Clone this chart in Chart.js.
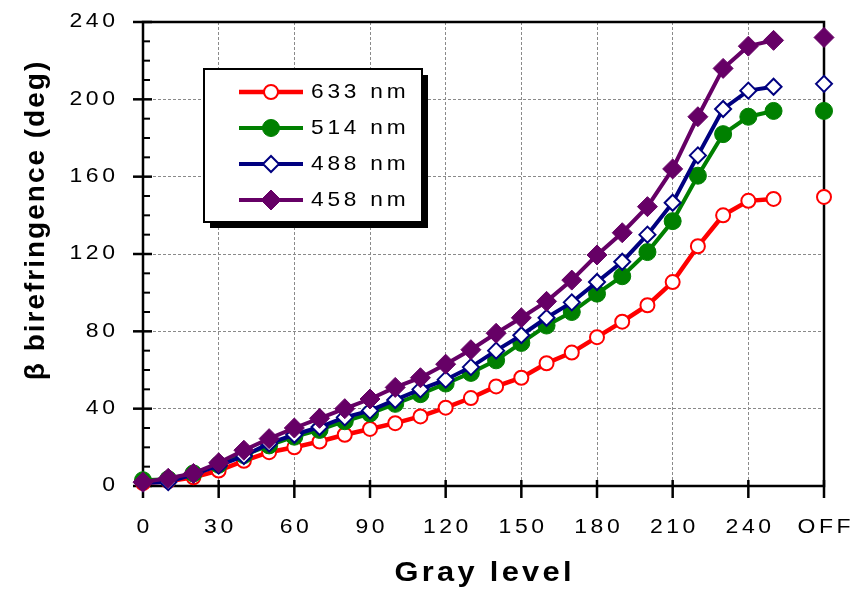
<!DOCTYPE html>
<html>
<head>
<meta charset="utf-8">
<script src="https://cdn.jsdelivr.net/npm/chart.js@4/dist/chart.umd.min.js"></script>
<style>
html,body{margin:0;padding:0;background:#fff;}
#wrap{width:866px;height:591px;position:relative;}
</style>
</head>
<body>
<div id="wrap"><canvas id="c" width="866" height="591"></canvas></div>
<script>
// ---- data ----
const grayLevels = [0,10,20,30,40,50,60,70,80,90,100,110,120,130,140,150,160,170,180,190,200,210,220,230,240,250];
const offPosition = 270;
const seriesNames = ['633 nm','514 nm','488 nm','458 nm'];
const red633   = [1.5,2.5,4.5,8,13,17.5,20,23,26.5,29.5,32.5,36,40.5,45.5,51.5,56,63.5,69,77,85,93.5,105.5,124,140,147.5,148.5];
const green514 = [3,3.5,6.5,11,16,21,25.5,29,33.5,37.5,42.5,47.5,53,58.5,65,74,83,90,99.5,108.5,121,137,160.5,182,191,194];
const blue488  = [1.5,2,6,10.5,15.5,22,26.5,30.5,35.5,39,44.5,50,55,61.5,70,78,87,95,105.5,116,130,146.5,171,195,204.5,206.5];
const purple458= [2,4,6.5,12,18.5,24.5,30,35,40,45,51,56,63,70.5,79,87,95.5,106.5,119.5,131,144.5,164,191,216,227.5,230.5];
const offValues = [149.5,194,208,232];
const xTickValues = [0,30,60,90,120,150,180,210,240,270];
const xTickLabels = ['0','30','60','90','120','150','180','210','240','OFF'];
const yTickValues = [0,40,80,120,160,200,240];
const yTickLabels = ['0','40','80','120','160','200','240'];
const xTitle = 'Gray level';
const yTitle = 'β birefringence (deg)';

const styles = [
  {color:'#ff0000', pointStyle:'circle', radius:7, fill:'#ffffff', bw:2, lw:4.5},
  {color:'#008000', pointStyle:'circle', radius:8.5, fill:'#008000', bw:1, lw:4},
  {color:'#000080', pointStyle:'rectRot', radius:8, fill:'#ffffff', bw:2, lw:4},
  {color:'#660066', pointStyle:'rectRot', radius:10, fill:'#660066', bw:1, lw:4}
];
const seriesValues = [red633, green514, blue488, purple458];

function buildData(vals, off){
  const d = grayLevels.map((g,i)=>({x:g, y:vals[i]}));
  d.push({x:260, y:null});
  d.push({x:offPosition, y:off});
  return d;
}

const datasets = seriesValues.map((vals,i)=>({
  label: seriesNames[i],
  data: buildData(vals, offValues[i]),
  borderColor: styles[i].color,
  backgroundColor: styles[i].fill,
  pointBackgroundColor: styles[i].fill,
  pointBorderColor: styles[i].color,
  pointBorderWidth: styles[i].bw,
  pointRadius: styles[i].radius,
  pointStyle: styles[i].pointStyle,
  borderWidth: styles[i].lw,
  spanGaps: false,
  tension: 0,
  clip: false,
  order: 4 - i
}));

const FONT = '"Liberation Sans", Arial, sans-serif';

function drawText(ctx, s, x, y, o){
  ctx.save();
  ctx.translate(x, y);
  if (o.rot) ctx.rotate(o.rot);
  ctx.scale(o.sx || 1, 1);
  ctx.font = o.font;
  ctx.letterSpacing = (o.ls || 0) + 'px';
  ctx.fillStyle = o.color || '#000';
  ctx.textAlign = 'left';
  ctx.textBaseline = 'middle';
  const w = ctx.measureText(s).width - (o.ls || 0);
  let off = 0;
  if (o.align === 'center') off = -w/2;
  else if (o.align === 'right') off = -w;
  ctx.fillText(s, off, 0);
  ctx.restore();
}

function drawMarker(ctx, st, x, y){
  ctx.save();
  ctx.fillStyle = st.fill;
  ctx.strokeStyle = st.color;
  ctx.lineWidth = st.bw;
  if (Chart.helpers && Chart.helpers.drawPoint) {
    Chart.helpers.drawPoint(ctx, {pointStyle: st.pointStyle, radius: st.radius, borderWidth: st.bw, rotation: 0}, x, y);
  }
  ctx.restore();
}

const framePlugin = {
  id: 'frame',
  beforeDatasetsDraw(chart){
    const ctx = chart.ctx, a = chart.chartArea;
    const xs = chart.scales.x, ys = chart.scales.y;
    ctx.save();
    ctx.strokeStyle = '#000';
    ctx.lineWidth = 2.5;
    ctx.lineCap = 'butt';
    ctx.strokeRect(a.left, a.top, a.right - a.left, a.bottom - a.top);
    yTickValues.forEach(v=>{
      const py = ys.getPixelForValue(v);
      ctx.beginPath(); ctx.moveTo(a.left - 10, py); ctx.lineTo(a.left + 9, py); ctx.stroke();
    });
    ctx.lineWidth = 2;
    for (let v = 10; v < 240; v += 10){
      if (v % 40 === 0) continue;
      const py = ys.getPixelForValue(v);
      ctx.beginPath(); ctx.moveTo(a.left, py); ctx.lineTo(a.left + 7, py); ctx.stroke();
    }
    ctx.lineWidth = 2.5;
    xTickValues.forEach(v=>{
      const px = xs.getPixelForValue(v);
      ctx.beginPath(); ctx.moveTo(px, a.bottom - 6); ctx.lineTo(px, a.bottom + 12); ctx.stroke();
    });
    ctx.restore();
  },
  afterDraw(chart){
    const ctx = chart.ctx;
    const xs = chart.scales.x, ys = chart.scales.y;
    yTickValues.forEach((v,i)=>{
      drawText(ctx, yTickLabels[i], 115, ys.getPixelForValue(v), {font:'19.5px '+FONT, sx:1.18, ls:3, align:'right'});
    });
    xTickValues.forEach((v,i)=>{
      drawText(ctx, xTickLabels[i], xs.getPixelForValue(v), 528, {font:'19.5px '+FONT, sx:1.18, ls:3, align:'center'});
    });
    drawText(ctx, xTitle, 483, 573, {font:'bold 28px '+FONT, sx:1.1, ls:3, align:'center'});
    drawText(ctx, yTitle, 36, 221, {font:'bold 28px '+FONT, sx:1.0, ls:2, align:'center', rot:-Math.PI/2});
    const L = {x:204, y:69, w:218, h:153};
    ctx.save();
    ctx.fillStyle = '#000';
    ctx.fillRect(L.x + 6, L.y + 6, L.w, L.h);
    ctx.fillStyle = '#fff';
    ctx.fillRect(L.x, L.y, L.w, L.h);
    ctx.strokeStyle = '#000';
    ctx.lineWidth = 2;
    ctx.strokeRect(L.x, L.y, L.w, L.h);
    ctx.restore();
    const rows = [92, 128, 164, 200];
    seriesNames.forEach((name,i)=>{
      const st = styles[i], ry = rows[i];
      ctx.save();
      ctx.strokeStyle = st.color; ctx.lineWidth = st.lw;
      ctx.beginPath(); ctx.moveTo(239, ry); ctx.lineTo(303, ry); ctx.stroke();
      ctx.restore();
      drawMarker(ctx, st, 271, ry);
      drawText(ctx, name, 311, ry, {font:'21px '+FONT, sx:1.08, ls:3.5, align:'left'});
    });
  }
};

new Chart(document.getElementById('c'), {
  type: 'line',
  data: { datasets },
  options: {
    responsive: false,
    animation: false,
    layout: { padding: {left:143, top:22, right:42, bottom:105} },
    plugins: { legend:{display:false}, tooltip:{enabled:false}, title:{display:false} },
    scales: {
      x: {
        type:'linear', min:0, max:270,
        afterBuildTicks(s){ s.ticks = xTickValues.map(v=>({value:v})); },
        afterFit(s){ s.height = 0; },
        ticks:{display:false},
        grid:{color:'#8a8a8a', lineWidth:1, drawTicks:false},
        border:{display:false, dash:[3,2]}
      },
      y: {
        type:'linear', min:0, max:240,
        afterBuildTicks(s){ s.ticks = yTickValues.map(v=>({value:v})); },
        afterFit(s){ s.width = 0; },
        ticks:{display:false},
        grid:{color:'#8a8a8a', lineWidth:1, drawTicks:false},
        border:{display:false, dash:[3,2]}
      }
    }
  },
  plugins: [framePlugin]
});
</script>
</body>
</html>
